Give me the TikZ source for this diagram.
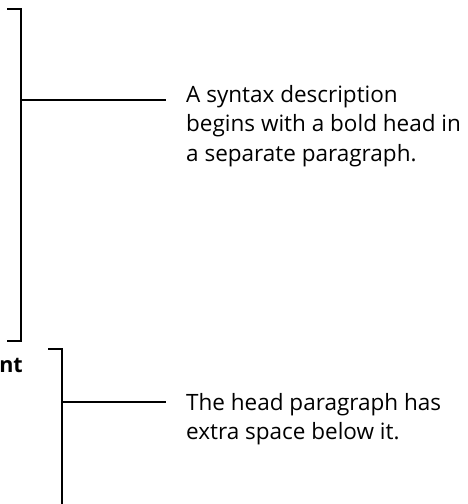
\documentclass[tikz,border=0pt]{standalone}
\usepackage{fontspec}
\setmainfont{Open Sans}
\usepackage{tikz}
\usetikzlibrary{
  calc,%
  positioning
}
\tikzset{bracket/.style={line width=1.4pt, line cap=butt, line join=miter}}
\tikzset{note/.style={align=left, inner sep=0pt, anchor=north west,
    font=\fontsize{22.5}{29.5}\selectfont}}

\begin{document}
\begin{tikzpicture}[x=1pt, y=-1pt]
  \useasboundingbox (0,0) rectangle (468,504);
  % upper bracket
  \coordinate (tipA) at (7,9);
  \coordinate (topA) at (21,9);
  \coordinate (botA) at (21,341);
  \coordinate (endA) at (7,341);
  \coordinate (midA) at (21,100);
  \draw[bracket] (tipA) -- (topA) -- (botA) -- (endA);
  \node[note] (noteA) at (186,85) {A syntax description\\begins with a bold head in\\a separate paragraph.};
  \coordinate (legA) at ([xshift=-20pt]noteA.north west |- midA);
  \draw[bracket] (midA) -- (legA);
  % head text, cut at the left edge
  \node[anchor=base east, inner sep=0pt, font=\fontsize{21.5}{24}\selectfont\bfseries] (head) at (23,372) {nt};
  % lower bracket
  \coordinate (tipB) at (48,349);
  \coordinate (topB) at (62,349);
  \coordinate (botB) at (62,504);
  \coordinate (midB) at (62,402);
  \draw[bracket] (tipB) -- (topB) -- (botB);
  \node[note] (noteB) at (186,393) {The head paragraph has\\extra space below it.};
  \coordinate (legB) at ([xshift=-20pt]noteB.north west |- midB);
  \draw[bracket] (midB) -- (legB);
\end{tikzpicture}
\end{document}
